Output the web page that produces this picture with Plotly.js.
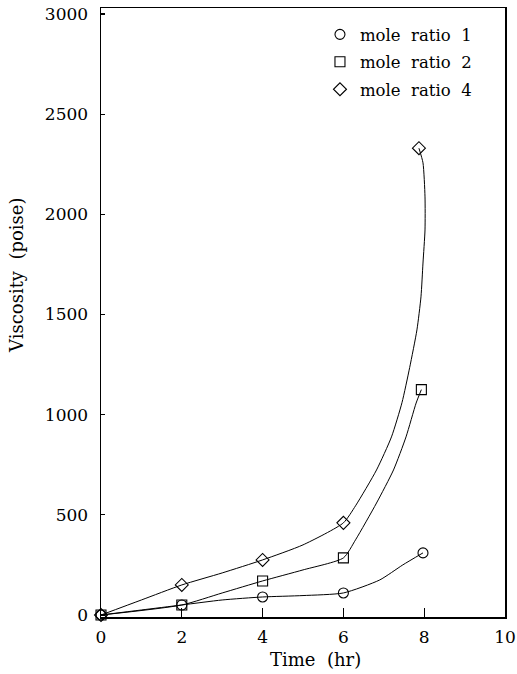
<!DOCTYPE html>
<html>
<head>
<meta charset="utf-8">
<script src="https://cdn.plot.ly/plotly-3.0.1.min.js"></script>
<style>html,body{margin:0;padding:0;background:#fff;overflow:hidden;}#chart{width:517px;height:674px;}</style>
</head>
<body>
<div id="chart"></div>
<script>
// Measured data points
const seriesNames = ["mole  ratio  1", "mole  ratio  2", "mole  ratio  4"];
const time1 = [0, 2, 4, 6, 7.97];
const visc1 = [0, 50, 90, 110, 310];
const time2 = [0, 2, 4, 6, 7.93];
const visc2 = [0, 50, 170, 285, 1125];
const time4 = [0, 2, 4, 6, 7.87];
const visc4 = [0, 150, 275, 460, 2330];

// Smooth curves
const curve1X = [0, 1, 2, 3, 4, 5, 6, 6.9, 7.47, 7.97];
const curve1Y = [0, 25, 50, 75, 90, 97, 110, 175, 250, 310];
const curve2X = [0, 2, 3, 4, 5, 6, 6.3, 6.82, 7.24, 7.55, 7.80, 7.93];
const curve2Y = [0, 50, 110, 170, 225, 285, 375, 559, 724, 889, 1058, 1125];
const curve4X = [0, 1, 2, 3, 4, 5, 6, 6.3, 6.82, 7.19, 7.45, 7.64, 7.82, 7.92, 7.97, 8.02, 8.02, 7.97, 7.87];
const curve4Y = [0, 75, 150, 210, 275, 350, 460, 545, 724, 889, 1060, 1235, 1423, 1588, 1757, 1922, 2087, 2257, 2330];

const xTicks = [0, 2, 4, 6, 8, 10];
const yTicks = [0, 500, 1000, 1500, 2000, 2500, 3000];

const serif = "DejaVu Serif, Liberation Serif, serif";

function curve(x, y) {
  return {x: x, y: y, mode: "lines", type: "scatter", showlegend: false, hoverinfo: "skip",
    line: {color: "#000", width: 1, shape: "spline", smoothing: 0.6}, cliponaxis: false};
}
function pts(x, y, name, sym, grp) {
  return {x: x, y: y, mode: "markers", type: "scatter", name: name, legendgroup: grp, cliponaxis: false,
    marker: {symbol: sym, size: 10, color: "#000", line: {color: "#000", width: 1.1}}};
}

const data = [
  curve(curve1X, curve1Y), curve(curve2X, curve2Y), curve(curve4X, curve4Y),
  pts(time1, visc1, seriesNames[0], "circle-open", "a"),
  pts(time2, visc2, seriesNames[1], "square-open", "b"),
  pts(time4, visc4, seriesNames[2], "diamond-open", "c")
];

const layout = {
  width: 517, height: 674,
  margin: {l: 101, r: 12, t: 8, b: 57},
  paper_bgcolor: "#fff", plot_bgcolor: "#fff",
  font: {family: serif, color: "#000", size: 17},
  showlegend: true,
  legend: {x: 0.542, xanchor: "left", y: 0.985, yanchor: "top", bgcolor: "rgba(0,0,0,0)",
    font: {family: serif, size: 16.5, color: "#000"}, tracegroupgap: 3},
  xaxis: {range: [0, 10], tickvals: xTicks, ticktext: xTicks.map(String), ticks: "inside", ticklen: 9,
    tickwidth: 1.2, tickcolor: "#000", showline: true, linecolor: "#000", linewidth: 1.5, mirror: true,
    showgrid: false, zeroline: false, ticklabelstandoff: 4, tickfont: {family: serif, size: 17}},
  yaxis: {range: [-10, 3030], tickvals: yTicks, ticktext: yTicks.map(String), ticks: "inside", ticklen: 4,
    tickwidth: 1.2, tickcolor: "#000", showline: true, linecolor: "#000", linewidth: 1.5, mirror: true,
    showgrid: false, zeroline: false, ticklabelstandoff: 8, tickfont: {family: serif, size: 17}},
  annotations: [
    {text: "Time  (hr)", xref: "paper", yref: "paper", x: 0.53, y: -0.0706, xanchor: "center", yanchor: "middle",
      showarrow: false, font: {family: serif, size: 18}},
    {text: "Viscosity  (poise)", xref: "paper", yref: "paper", x: -0.208, y: 0.5616, xanchor: "center", yanchor: "middle",
      textangle: -90, showarrow: false, font: {family: serif, size: 18}}
  ]
};

Plotly.newPlot("chart", data, layout, {displayModeBar: false, staticPlot: true});
</script>
</body>
</html>
